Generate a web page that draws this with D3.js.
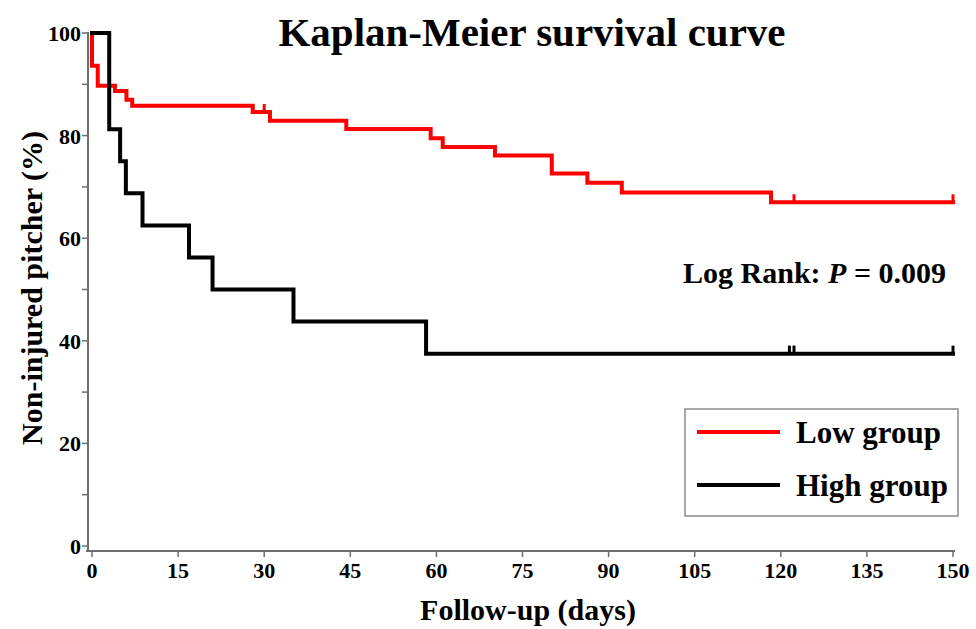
<!DOCTYPE html>
<html>
<head>
<meta charset="utf-8">
<script src="https://cdn.jsdelivr.net/npm/d3@7"></script>
<style>
html,body{margin:0;padding:0;background:#fff;}
svg{display:block;font-family:"Liberation Serif","Times New Roman",serif;font-weight:bold;}
</style>
</head>
<body>
<svg id="chart" width="976" height="629"></svg>
<script>
// ---- data ----
const lowTimes = [0, 1, 4, 6, 7, 28, 31, 44.3, 59, 61.1, 70.2, 80.1, 86.3, 92.3, 118.3];
const lowSurv  = [93.6, 89.7, 88.7, 87.0, 85.8, 84.6, 82.9, 81.3, 79.5, 77.8, 76.1, 72.6, 70.8, 68.9, 67.0];
const lowCensor = [30, 122.3, 150];
const highTimes = [3, 4.9, 5.9, 8.8, 16.9, 21, 35.1, 58.2];
const highSurv  = [81.25, 75, 68.75, 62.5, 56.25, 50, 43.75, 37.5];
const highCensor = [121.5, 122.3, 150];
const xTicks = [0, 15, 30, 45, 60, 75, 90, 105, 120, 135, 150];
const yTicks = [0, 20, 40, 60, 80, 100];
const yMinorTicks = [10, 30, 50, 70, 90];
const seriesNames = ["Low group", "High group"];
const seriesColors = ["#ff0000", "#000000"];
const followUpEnd = 150;

const svg = d3.select("#chart");
const x = d3.scaleLinear().domain([0, 150]).range([92, 953]);
const y = d3.scaleLinear().domain([0, 100]).range([546, 33]);
const axisColor = "#6e6e6e";

// title
svg.append("text").attr("x", 532).attr("y", 46).attr("text-anchor", "middle")
  .attr("font-size", 41).text("Kaplan-Meier survival curve");

// y axis
const yAxisX = 88;
svg.append("line").attr("x1", yAxisX).attr("x2", yAxisX).attr("y1", y(100)-1).attr("y2", 551)
  .attr("stroke", axisColor).attr("stroke-width", 2);
svg.selectAll(".ytick").data(yTicks.concat(yMinorTicks)).enter().append("line")
  .attr("x1", yAxisX - 6).attr("x2", yAxisX).attr("y1", d => y(d)).attr("y2", d => y(d))
  .attr("stroke", axisColor).attr("stroke-width", 1.5);
svg.selectAll(".ylab").data(yTicks).enter().append("text")
  .attr("x", yAxisX - 7).attr("y", d => y(d) + 8).attr("text-anchor", "end")
  .attr("font-size", 22).text(d => d);

// x axis
const xAxisY = 551;
svg.append("line").attr("x1", yAxisX - 2).attr("x2", x(150) + 2).attr("y1", xAxisY).attr("y2", xAxisY)
  .attr("stroke", axisColor).attr("stroke-width", 2);
svg.selectAll(".xtick").data(xTicks).enter().append("line")
  .attr("x1", d => x(d)).attr("x2", d => x(d)).attr("y1", xAxisY).attr("y2", xAxisY + 6)
  .attr("stroke", axisColor).attr("stroke-width", 1.5);
svg.selectAll(".xlab").data(xTicks).enter().append("text")
  .attr("x", d => x(d)).attr("y", 578).attr("text-anchor", "middle")
  .attr("font-size", 22).text(d => d);

// axis titles
svg.append("text").attr("x", 528).attr("y", 620).attr("text-anchor", "middle")
  .attr("font-size", 30).text("Follow-up (days)");
svg.append("text").attr("transform", "translate(42,288) rotate(-90)").attr("text-anchor", "middle")
  .attr("font-size", 30).text("Non-injured pitcher (%)");

// step curve builder
function stepPoints(times, surv, end) {
  const pts = [[0, 100]];
  let cur = 100;
  times.forEach((t, i) => { pts.push([t, cur]); pts.push([t, surv[i]]); cur = surv[i]; });
  pts.push([end, cur]);
  return pts;
}
function survAt(times, surv, t) {
  let s = 100;
  times.forEach((tt, i) => { if (tt <= t) s = surv[i]; });
  return s;
}
const line = d3.line().x(d => x(d[0])).y(d => y(d[1]));

const groups = [
  {times: lowTimes, surv: lowSurv, cens: lowCensor, color: seriesColors[0]},
  {times: highTimes, surv: highSurv, cens: highCensor, color: seriesColors[1]}
];
groups.forEach(g => {
  svg.append("path").attr("d", line(stepPoints(g.times, g.surv, followUpEnd)))
    .attr("fill", "none").attr("stroke", g.color).attr("stroke-width", 4)
    .attr("stroke-linejoin", "miter").attr("stroke-linecap", "square");
  svg.selectAll(null).data(g.cens).enter().append("line")
    .attr("x1", d => x(d)).attr("x2", d => x(d))
    .attr("y1", d => y(survAt(g.times, g.surv, d)))
    .attr("y2", d => y(survAt(g.times, g.surv, d)) - 8)
    .attr("stroke", g.color).attr("stroke-width", 3);
});

// log rank text
const lr = svg.append("text").attr("x", 946).attr("y", 283).attr("text-anchor", "end").attr("font-size", 30);
lr.append("tspan").text("Log Rank: ");
lr.append("tspan").attr("font-style", "italic").text("P");
lr.append("tspan").text(" = 0.009");

// legend
svg.append("rect").attr("x", 685).attr("y", 409).attr("width", 273).attr("height", 107)
  .attr("fill", "none").attr("stroke", "#8a8a8a").attr("stroke-width", 1.5);
seriesNames.forEach((name, i) => {
  const ly = 432 + i * 53;
  svg.append("line").attr("x1", 697).attr("x2", 780).attr("y1", ly).attr("y2", ly)
    .attr("stroke", seriesColors[i]).attr("stroke-width", 4);
  svg.append("text").attr("x", 796).attr("y", ly + 11).attr("font-size", 31).text(name);
});
</script>
</body>
</html>
